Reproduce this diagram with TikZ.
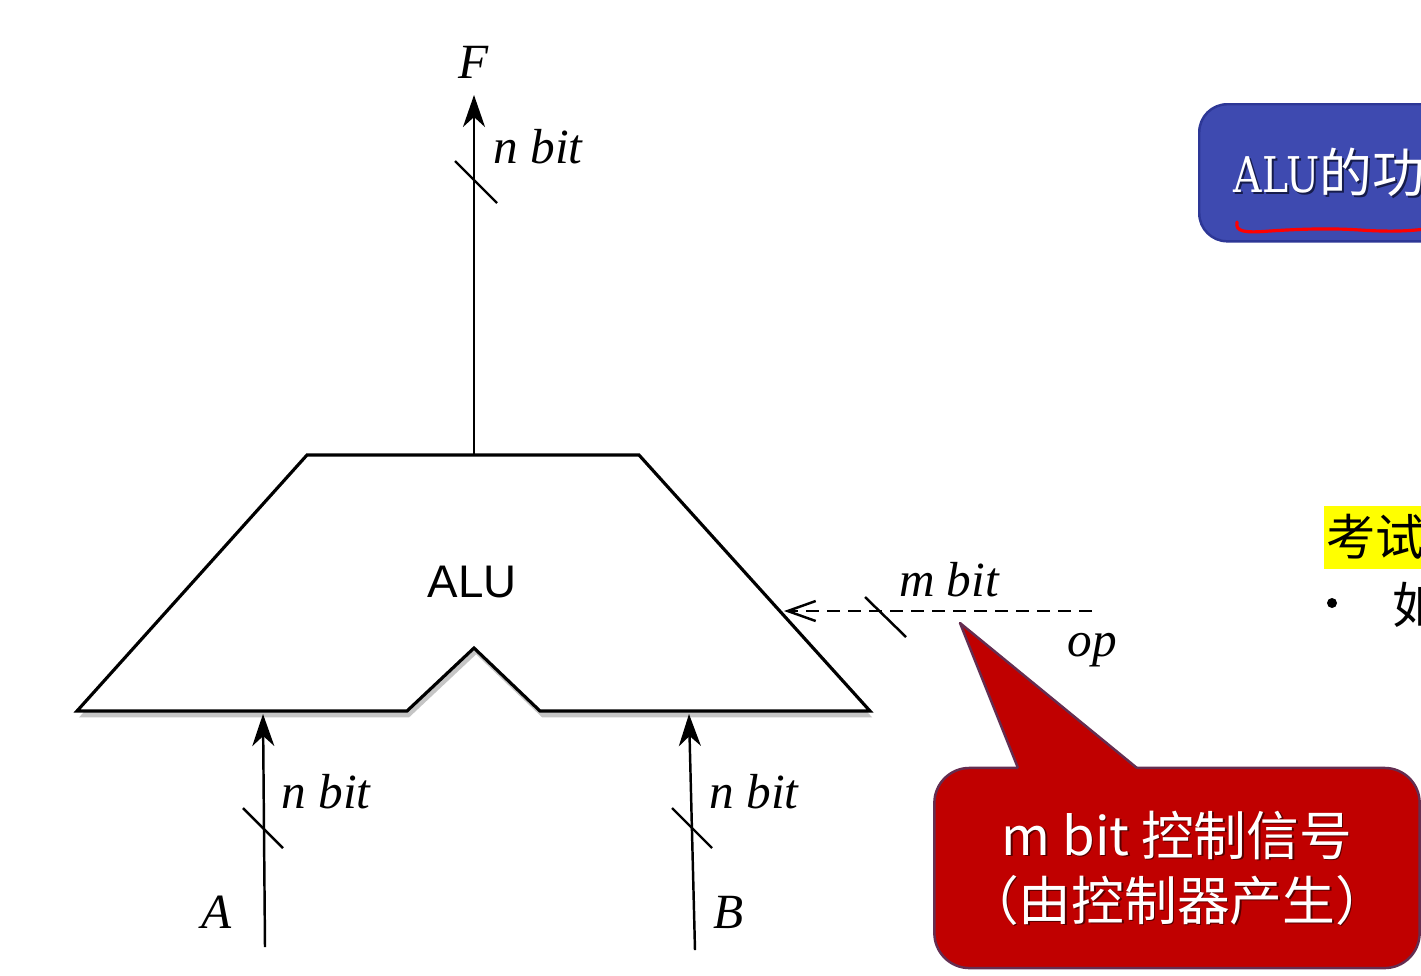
\documentclass[tikz,border=0pt]{standalone}
\usepackage{fontspec}
\setmainfont{Liberation Serif}
\setsansfont{Liberation Sans}
\newfontfamily\cjk{Noto Sans CJK SC}
\newfontfamily\titlefont[FakeStretch=0.8]{DejaVu Serif}
\usetikzlibrary{arrows.meta,shadows}
\definecolor{calloutred}{RGB}{192,0,0}
\definecolor{calloutedge}{RGB}{100,45,80}
\definecolor{titleblue}{RGB}{62,74,176}
\definecolor{titleedge}{RGB}{45,55,150}
\definecolor{markyellow}{RGB}{255,255,0}

\begin{document}
\begin{tikzpicture}[x=0.01cm,y=-0.01cm,
	bus/.style={line width=0.7pt,-{Stealth[length=0.32cm,width=0.22cm,inset=0.1cm]}},
	busmark/.style={line width=0.7pt},
	lbl/.style={font=\fontsize{14}{16}\selectfont\itshape,inner sep=0pt},
	ctrl/.style={line width=0.7pt,dash pattern=on 0.13cm off 0.08cm,-{Straight Barb[length=0.28cm,width=0.2cm]}},
	notebox/.style={fill=calloutred,draw=calloutedge,line width=0.7pt,rounded corners=0.35cm,
		minimum width=4.85cm,minimum height=2cm},
	notetext/.style={text=white,align=center,font=\cjk\fontsize{15}{18.5}\selectfont}]

				\useasboundingbox (0,0) rectangle (1421,975);
				\fill[white] (0,0) rectangle (1421,975);
				\clip (0,0) rectangle (1421,975);

				\draw[line width=0.9pt,fill=white,
					drop shadow={shadow xshift=0.6pt,shadow yshift=-1.8pt,opacity=0.45}]
					(77,711) -- (307,455) -- (639,455) -- (870,711) 
					-- (540,711) -- (474,648) -- (407,711) -- cycle;
				\node[font=\sffamily\fontsize{13}{15}\selectfont] (alu) at (472,582) {ALU};

				\coordinate (outF) at (474,455);
				\coordinate (tipF) at (474,95);
				\coordinate (inA) at (265,947);
				\coordinate (tipA) at (263,714);
				\coordinate (inB) at (695,950);
				\coordinate (tipB) at (689,714);
				\coordinate (opin) at (1092,611);
				\coordinate (tipop) at (784,611);

				\draw[bus] (outF) -- (tipF);
				\draw[bus] (inA) -- (tipA);
				\draw[bus] (inB) -- (tipB);
				\draw[ctrl] (opin) -- (tipop);

				\draw[busmark] (455,161) -- (497,203);
				\draw[busmark] (243,808) -- (283,848);
				\draw[busmark] (672,808) -- (712,848);
				\draw[busmark] (865,597) -- (906,637);

				\node[lbl] (F) at (474,62) {F};
				\node[lbl] (nF) at (538,147) {n bit};
				\node[lbl] (A) at (217,912) {A};
				\node[lbl] (nA) at (326,792) {n bit};
				\node[lbl] (B) at (729,912) {B};
				\node[lbl] (nB) at (754,792) {n bit};
				\node[lbl] (m) at (949,580) {m bit};
				\node[lbl] (op) at (1092,650) {op};

				\node[notebox] (note) at (1177,868) {};
				\coordinate (ptr) at (960,623);
				\fill[calloutred] (1020,773) -- (ptr) -- (1142,773) -- cycle;
				\draw[calloutedge,line width=0.7pt,line join=round] (1018,768) -- (ptr) -- (1137,768);
				\node[notetext,text=calloutred!45!black] at ([shift={(1.5,1.5)}]note) {m bit 控制信号\\（由控制器产生）};
				\node[notetext] (notelines) at (note) {m bit 控制信号\\（由控制器产生）};

				\node[fill=titleblue,draw=titleedge,line width=0.7pt,rounded corners=0.28cm,
					anchor=north west,minimum width=4cm,minimum height=1.37cm] (title) at (1198,103) {};
				\node[anchor=base west,inner sep=0pt,text=titleedge!50!black,font=\fontsize{14}{18}\selectfont] at (1235,194) {{\titlefont ALU}{\cjk\fontsize{15}{18}\selectfont 的功}};
				\node[anchor=base west,inner sep=0pt,text=white,font=\fontsize{14}{18}\selectfont] (titletext) at (1233,192) {{\titlefont ALU}{\cjk\fontsize{15}{18}\selectfont 的功}};
				\draw[red,line width=0.9pt,line cap=round] (1237,222) .. controls (1235,232) and (1245,233) .. (1270,231)
					.. controls (1300,229) and (1330,228) .. (1360,230) .. controls (1390,232) and (1410,231) .. (1425,229);

				\node[fill=markyellow,anchor=north west,minimum width=1.2cm,minimum height=0.63cm] (exam) at (1323,505) {};
				\node[anchor=west,inner sep=0pt,font=\cjk\fontsize{14}{16}\selectfont] (examtext) at (1326,537) {考试};
				\node[circle,fill,inner sep=0pt,minimum size=0.1cm] (dot) at (1332,603) {};
				\node[anchor=west,inner sep=0pt,font=\cjk\fontsize{14}{16}\selectfont] (ru) at (1392,605) {如};

			\end{tikzpicture}
\end{document}
